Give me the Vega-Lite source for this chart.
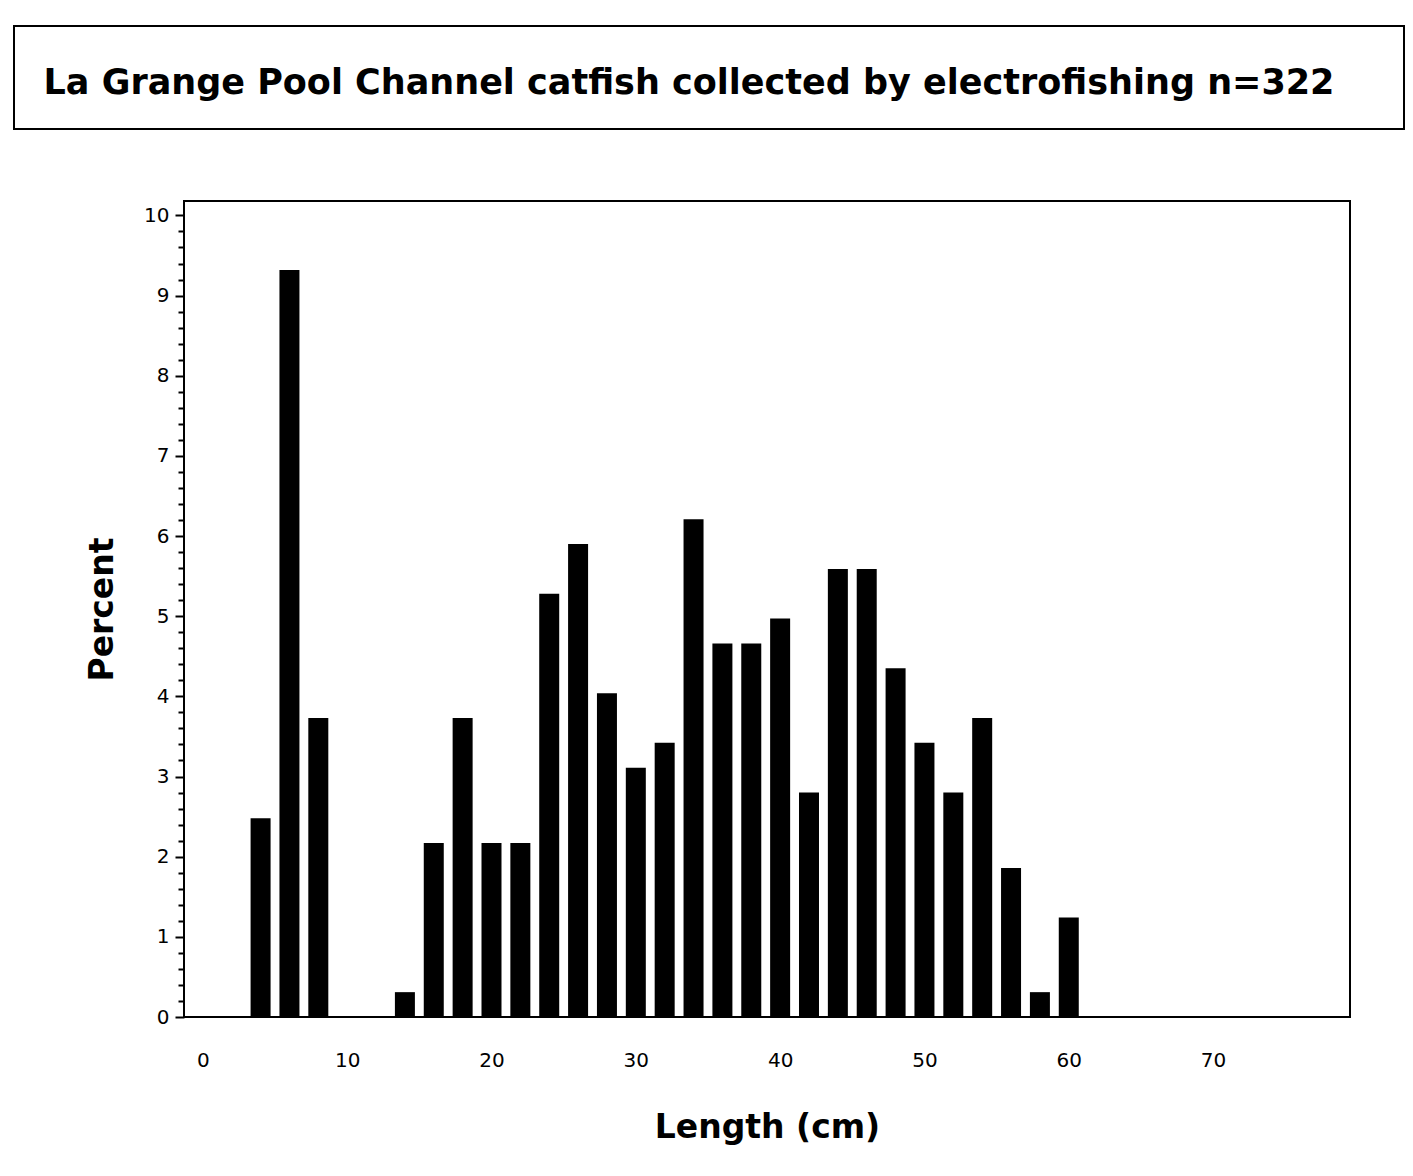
{
  "$schema": "https://vega.github.io/schema/vega-lite/v6.json",
  "background": "white",
  "padding": {"left": 13, "top": 25, "right": 0, "bottom": 0},
  "spacing": 70,
  "align": {"column": "all", "row": "none"},
  "center": {"column": true, "row": false},
  "bounds": "full",
  "config": {
    "font": "DejaVu Sans",
    "view": {"stroke": "black", "strokeWidth": 2}
  },
  "vconcat": [
    {
      "width": 1390,
      "height": 103,
      "data": {"values": [{"t": "La Grange Pool Channel catfish collected by electrofishing n=322"}]},
      "mark": {"type": "text", "font": "DejaVu Sans", "fontWeight": "bold", "fontSize": 35, "color": "black", "baseline": "alphabetic", "dx": -20, "dy": 16},
      "encoding": {
        "text": {"field": "t"},
        "y": {"field": "t", "type": "nominal", "axis": {"orient": "right", "labels": false, "domain": false, "ticks": true, "tickSize": 116, "tickOpacity": 0, "title": null}}
      }
    },
    {
      "width": 1166,
      "height": 816,
      "data": {"values": [
        {"length": 4, "percent": 2.48},
        {"length": 6, "percent": 9.32},
        {"length": 8, "percent": 3.73},
        {"length": 14, "percent": 0.31},
        {"length": 16, "percent": 2.17},
        {"length": 18, "percent": 3.73},
        {"length": 20, "percent": 2.17},
        {"length": 22, "percent": 2.17},
        {"length": 24, "percent": 5.28},
        {"length": 26, "percent": 5.90},
        {"length": 28, "percent": 4.04},
        {"length": 30, "percent": 3.11},
        {"length": 32, "percent": 3.42},
        {"length": 34, "percent": 6.21},
        {"length": 36, "percent": 4.66},
        {"length": 38, "percent": 4.66},
        {"length": 40, "percent": 4.97},
        {"length": 42, "percent": 2.80},
        {"length": 44, "percent": 5.59},
        {"length": 46, "percent": 5.59},
        {"length": 48, "percent": 4.35},
        {"length": 50, "percent": 3.42},
        {"length": 52, "percent": 2.80},
        {"length": 54, "percent": 3.73},
        {"length": 56, "percent": 1.86},
        {"length": 58, "percent": 0.31},
        {"length": 60, "percent": 1.24}
      ]},
      "mark": {"type": "bar", "orient": "vertical", "width": 20, "color": "black"},
      "encoding": {
        "x": {
          "field": "length", "type": "quantitative",
          "scale": {"domain": [-0.96, 79.14], "nice": false, "zero": false},
          "axis": {
            "values": [0, 10, 20, 30, 40, 50, 60, 70],
            "ticks": false, "domain": false, "grid": false,
            "labelFont": "DejaVu Sans", "labelFontSize": 20, "labelColor": "black",
            "labelPadding": 33, "labelFlush": false,
            "title": "Length  (cm)", "titleFont": "DejaVu Sans", "titleFontSize": 33, "titleFontWeight": "bold", "titleColor": "black", "titlePadding": 41
          }
        },
        "y": {
          "field": "percent", "type": "quantitative",
          "scale": {"domain": [0, 10.18], "nice": false},
          "axis": {
            "values": [0, 0.2, 0.4, 0.6, 0.8, 1, 1.2, 1.4, 1.6, 1.8, 2, 2.2, 2.4, 2.6, 2.8, 3, 3.2, 3.4, 3.6, 3.8, 4, 4.2, 4.4, 4.6, 4.8, 5, 5.2, 5.4, 5.6, 5.8, 6, 6.2, 6.4, 6.6, 6.8, 7, 7.2, 7.4, 7.6, 7.8, 8, 8.2, 8.4, 8.6, 8.8, 9, 9.2, 9.4, 9.6, 9.8, 10],
            "labelExpr": "datum.value % 1 === 0 ? format(datum.value, 'd') : ''",
            "labelOverlap": false,
            "tickSize": {"condition": {"test": "datum.value % 1 === 0", "value": 9}, "value": 6},
            "tickWidth": 2, "tickColor": "black",
            "domain": false, "grid": false,
            "labelFont": "DejaVu Sans", "labelFontSize": 20, "labelColor": "black", "labelPadding": 6, "labelFlush": false,
            "title": "Percent", "titleFont": "DejaVu Sans", "titleFontSize": 33, "titleFontWeight": "bold", "titleColor": "black", "titlePadding": 24
          }
        }
      }
    }
  ]
}
